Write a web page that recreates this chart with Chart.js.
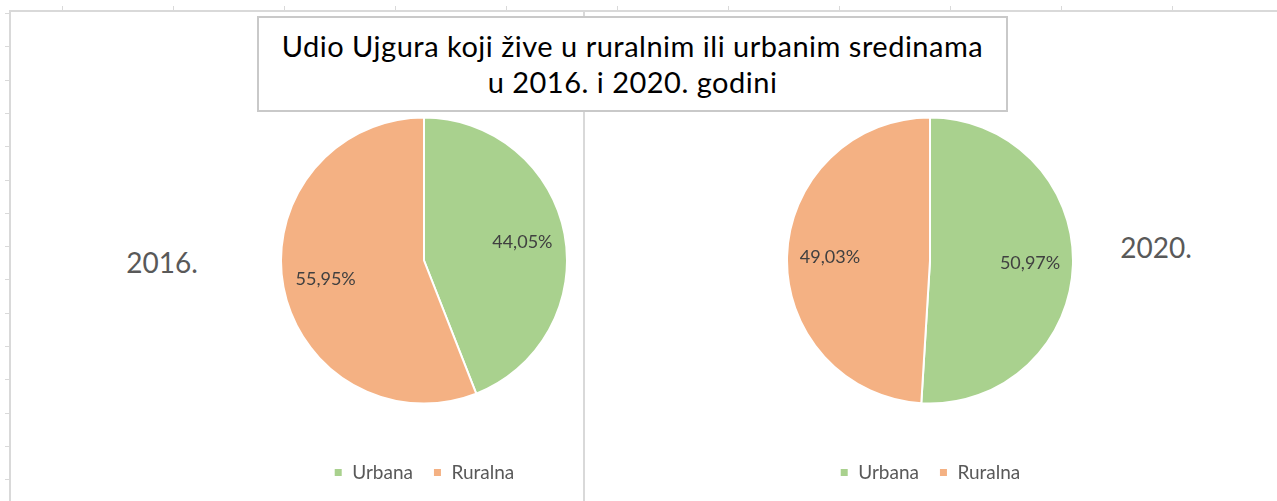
<!DOCTYPE html>
<html>
<head>
<meta charset="utf-8">
<script src="https://cdn.jsdelivr.net/npm/chart.js@4.4.1/dist/chart.umd.min.js"></script>
<style>
  body { margin: 0; background: #fff; }
  #page { position: relative; width: 1277px; height: 501px; overflow: hidden; font-family: Lato, "Open Sans", sans-serif; }
  .line { position: absolute; background: #d9d9d9; }
  #title {
    position: absolute; left: 257px; top: 16px; width: 747px; height: 92px;
    border: 2px solid #c9c9c9; background: #fff;
    display: flex; align-items: center; justify-content: center; text-align: center;
    font-size: 29px; letter-spacing: 0.5px; line-height: 36px; color: #000;
  }
  .year { position: absolute; font-size: 28px; color: #595959; transform: translate(-50%, -50%); white-space: nowrap; }
  canvas { position: absolute; }
</style>
</head>
<body>
<div id="page">
  <div class="line" style="left:9px;top:10px;width:1268px;height:2px;"></div>
  <div class="line" style="left:9px;top:10px;width:2px;height:491px;"></div>
  <div class="line" style="left:583px;top:10px;width:2px;height:491px;"></div>
  <div id="title">Udio Ujgura koji žive u ruralnim ili urbanim sredinama<br>u 2016. i 2020. godini</div>
  <div class="year" id="year0" style="left:162px;top:262px;"></div>
  <div class="year" id="year1" style="left:1156px;top:247px;"></div>
  <canvas id="pie2016" width="288" height="430" style="left:280px;top:70px;"></canvas>
  <canvas id="pie2020" width="288" height="430" style="left:786px;top:70px;"></canvas>
</div>
<script>
// chart data
const categories = ['Urbana', 'Ruralna'];
const share2016 = [44.05, 55.95];
const share2020 = [50.97, 49.03];
const years = ['2016.', '2020.'];
const colors = ['#a9d18e', '#f4b183'];

// little tick marks on the sheet frame
const page = document.getElementById('page');
for (let x = 62; x < 1277; x += 111) {
    const t = document.createElement('div');
    t.className = 'line';
    t.style.cssText = 'left:' + x + 'px;top:6px;width:1px;height:5px;';
    page.appendChild(t);
}
for (let y = 13; y < 501; y += 33.3) {
    const t = document.createElement('div');
    t.className = 'line';
    t.style.cssText = 'left:5px;top:' + Math.round(y) + 'px;width:5px;height:1px;';
    page.appendChild(t);
}

document.getElementById('year0').textContent = years[0];
document.getElementById('year1').textContent = years[1];

// percentage labels inside the slices
const pctLabels = {
    id: 'pctLabels',
    afterDatasetsDraw(chart) {
        const ctx = chart.ctx;
        const meta = chart.getDatasetMeta(0);
        const vals = chart.data.datasets[0].data;
        ctx.save();
        ctx.font = '18px Lato';
        ctx.fillStyle = '#404040';
        ctx.textAlign = 'center';
        ctx.textBaseline = 'middle';
        meta.data.forEach((arc, i) => {
            const p = arc.getProps(['x', 'y', 'startAngle', 'endAngle', 'outerRadius']);
            const a = (p.startAngle + p.endAngle) / 2;
            const r = p.outerRadius * 0.7;
            const txt = vals[i].toFixed(2).replace('.', ',') + '%';
            ctx.fillText(txt, p.x + Math.cos(a) * r, p.y + Math.sin(a) * r);
        });
        ctx.restore();
    }
};

function makePie(id, values) {
    const ctx = document.getElementById(id).getContext('2d');
    return new Chart(ctx, {
        type: 'pie',
        data: {
            labels: categories,
            datasets: [{
                data: values,
                backgroundColor: colors,
                borderColor: '#ffffff',
                borderWidth: 2
            }]
        },
        options: {
            responsive: false,
            animation: false,
            layout: { padding: { top: 8, bottom: 8 } },
            plugins: {
                tooltip: { enabled: false },
                legend: {
                    position: 'bottom',
                    labels: {
                        boxWidth: 9,
                        boxHeight: 9,
                        padding: 20,
                        color: '#595959',
                        font: { family: 'Lato', size: 19 }
                    }
                }
            }
        },
        plugins: [pctLabels]
    });
}

makePie('pie2016', share2016);
makePie('pie2020', share2020);
</script>
</body>
</html>
